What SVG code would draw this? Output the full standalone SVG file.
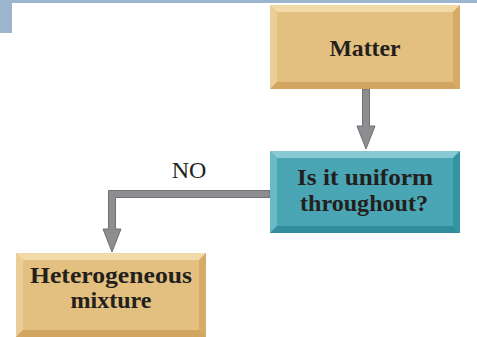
<svg xmlns="http://www.w3.org/2000/svg" width="477" height="337" viewBox="0 0 477 337">
<style>
.lbl{font-family:"Liberation Serif","Times New Roman",serif;font-weight:bold;font-size:24px;fill:#231f1c;text-anchor:middle}
.no{font-family:"Liberation Serif","Times New Roman",serif;font-size:24px;fill:#231f1c;text-anchor:middle}
.gm{fill:#e3c07f}.gt{fill:#f1d9a8}.gl{fill:#eacd97}.gr{fill:#d6ab66}.gb{fill:#d2a661}
.tm{fill:#4aa6b5}.tt{fill:#88cad4}.tl{fill:#6ab9c5}.tr{fill:#3594a3}.tb{fill:#318c9b}
.arr{fill:#8d8d92;stroke:#707075;stroke-width:1}
</style>
<rect x="0" y="0" width="477" height="3" fill="#9ab5cd"/>
<rect x="0" y="0" width="12" height="33" fill="#9ab5cd"/>
<g id="connectors">
<path class="arr" d="M362.5 89 H369.5 V126 H375 L366 149 L357 126 H362.5 Z"/>
<path class="arr" d="M270 190.5 V197.5 H115.5 V229 H121 L112 252 L103 229 H108.5 V190.5 Z"/>
<text class="no" x="189" y="178">NO</text>
</g>
<g id="matter">
<rect class="gm" x="270" y="5" width="190" height="84"/>
<polygon class="gt" points="270,5 460,5 453,12 277,12"/>
<polygon class="gl" points="270,5 277,12 277,82 270,89"/>
<polygon class="gr" points="460,5 460,89 453,82 453,12"/>
<polygon class="gb" points="270,89 460,89 453,82 277,82"/>
<text class="lbl" x="365" y="56" textLength="71" lengthAdjust="spacingAndGlyphs">Matter</text>
</g>
<g id="uniform">
<rect class="tm" x="270" y="151" width="190" height="82"/>
<polygon class="tt" points="270,151 460,151 453,158 277,158"/>
<polygon class="tl" points="270,151 277,158 277,226 270,233"/>
<polygon class="tr" points="460,151 460,233 453,226 453,158"/>
<polygon class="tb" points="270,233 460,233 453,226 277,226"/>
<text class="lbl" x="365" y="185" textLength="136" lengthAdjust="spacingAndGlyphs">Is it uniform</text>
<text class="lbl" x="364" y="211" textLength="128" lengthAdjust="spacingAndGlyphs">throughout?</text>
</g>
<g id="hetero">
<rect class="gm" x="16" y="253" width="190" height="84"/>
<polygon class="gt" points="16,253 206,253 199,260 23,260"/>
<polygon class="gl" points="16,253 23,260 23,330 16,337"/>
<polygon class="gr" points="206,253 206,337 199,330 199,260"/>
<polygon class="gb" points="16,337 206,337 199,330 23,330"/>
<text class="lbl" x="111" y="283" textLength="162" lengthAdjust="spacingAndGlyphs">Heterogeneous</text>
<text class="lbl" x="111" y="308" textLength="81" lengthAdjust="spacingAndGlyphs">mixture</text>
</g>
</svg>
